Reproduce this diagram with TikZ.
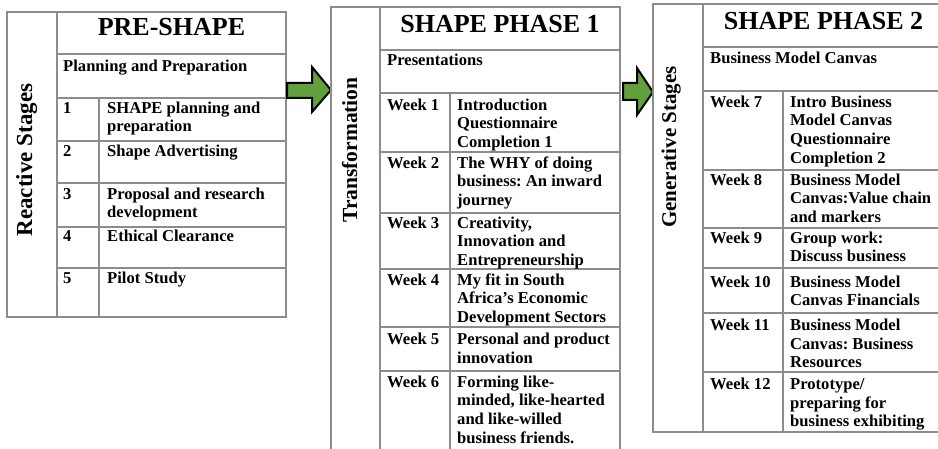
\documentclass[tikz,border=0pt]{standalone}
\usepackage{fontspec}
\setmainfont{Liberation Serif}
\frenchspacing
\definecolor{gridgray}{RGB}{140,140,140}
\definecolor{arrowgreen}{RGB}{98,160,62}
\newcommand{\bodyfont}{\fontsize{16.6}{18.8}\selectfont\bfseries}
\newcommand{\titlefont}{\fontsize{26}{30}\selectfont\bfseries}
\newcommand{\sst}{\rule{0pt}{13pt}}
\tikzset{
  grid/.style={draw=gridgray, line width=1.3pt},
  cell/.style={anchor=north west, inner sep=0pt, align=left, font=\bodyfont},
  title/.style={anchor=base, inner sep=0pt, font=\titlefont},
  stage/.style={anchor=base, inner sep=0pt, rotate=90},
  bigarrow/.style={draw=black, fill=arrowgreen, line width=2pt, line join=miter}
}
\begin{document}
\begin{tikzpicture}[x=1pt,y=-1pt]
\useasboundingbox (0,0) rectangle (938,449);

% ---------- Table 1 : PRE-SHAPE ----------
\draw[grid] (7,12) rectangle (286,317);
\draw[grid] (57,12) -- (57,317);
\draw[grid] (99,98) -- (99,317);
\foreach \y in {54,98,141,183,227,268} \draw[grid] (57,\y) -- (286,\y);

\node[title] (t1) at (171.5,36) {PRE-SHAPE};
\node[cell] (p1) at (63,71-13) {\sst Planning and Preparation};
\node[stage,font=\fontsize{23}{26}\selectfont\bfseries] (s1) at (32,160) {Reactive Stages};

\node[cell] (n1) at (63,113-13) {\sst 1};
\node[cell] (r1) at (107,113-13) {\sst SHAPE planning and\\preparation};
\node[cell] (n2) at (63,156-13) {\sst 2};
\node[cell] (r2) at (107,156-13) {\sst Shape Advertising};
\node[cell] (n3) at (63,199-13) {\sst 3};
\node[cell] (r3) at (107,199-13) {\sst Proposal and research\\development};
\node[cell] (n4) at (63,241-13) {\sst 4};
\node[cell] (r4) at (107,241-13) {\sst Ethical Clearance};
\node[cell] (n5) at (63,283-13) {\sst 5};
\node[cell] (r5) at (107,283-13) {\sst Pilot Study};

% ---------- Arrow 1 ----------
\draw[bigarrow] (287,83) -- (312,83) -- (312,67) -- (331,90) -- (312,112) -- (312,98) -- (287,98) -- cycle;

% ---------- Table 2 : SHAPE PHASE 1 ----------
\draw[grid] (331,449) -- (331,7) -- (620,7) -- (620,449);
\draw[grid] (380,7) -- (380,449);
\draw[grid] (450,93) -- (450,449);
\foreach \y in {50,93,152,213,269,327,371} \draw[grid] (380,\y) -- (620,\y);

\node[title] (t2) at (500,33) {SHAPE PHASE 1};
\node[cell] (p2) at (387,65-13) {\sst Presentations};
\node[stage,font=\fontsize{21.5}{24}\selectfont\bfseries] (s2) at (357,150) {Transformation};

\node[cell] (w1) at (387,110-13) {\sst Week 1};
\node[cell] (d1) at (457,110-13) {\sst Introduction\\Questionnaire\\Completion 1};
\node[cell] (w2) at (387,168-13) {\sst Week 2};
\node[cell] (d2) at (457,168-13) {\sst The WHY of doing\\business: An inward\\journey};
\node[cell] (w3) at (387,228-13) {\sst Week 3};
\node[cell] (d3) at (457,228-13) {\sst Creativity,\\Innovation and\\Entrepreneurship};
\node[cell] (w4) at (387,285-13) {\sst Week 4};
\node[cell] (d4) at (457,285-13) {\sst My fit in South\\Africa’s Economic\\Development Sectors};
\node[cell] (w5) at (387,344-13) {\sst Week 5};
\node[cell] (d5) at (457,344-13) {\sst Personal and product\\innovation};
\node[cell] (w6) at (387,387-13) {\sst Week 6};
\node[cell] (d6) at (457,387-13) {\sst Forming like-\\minded, like-hearted\\and like-willed\\business friends.};

% ---------- Arrow 2 ----------
\draw[bigarrow] (623,83) -- (637,83) -- (637,68) -- (653,92) -- (637,115) -- (637,100) -- (623,100) -- cycle;

% ---------- Table 3 : SHAPE PHASE 2 ----------
\draw[grid] (938,4) -- (653,4) -- (653,432) -- (938,432);
\draw[grid] (703,4) -- (703,432);
\draw[grid] (783,91) -- (783,432);
\foreach \y in {47,91,170,228,268,313,372} \draw[grid] (703,\y) -- (938,\y);

\node[title] (t3) at (823.5,30) {SHAPE PHASE 2};
\node[cell] (p3) at (710,63-13) {\sst Business Model Canvas};
\node[stage,font=\fontsize{21}{24}\selectfont\bfseries] (s3) at (676,147) {Generative Stages};

\node[cell] (w7) at (710,107-13) {\sst Week 7};
\node[cell] (d7) at (790,107-13) {\sst Intro Business\\Model Canvas\\Questionnaire\\Completion 2};
\node[cell] (w8) at (710,185-13) {\sst Week 8};
\node[cell] (d8) at (790,185-13) {\sst Business Model\\Canvas:Value chain\\and markers};
\node[cell] (w9) at (710,243-13) {\sst Week 9};
\node[cell] (d9) at (790,243-13) {\sst Group work:\\Discuss business};
\node[cell] (w10) at (710,287-13) {\sst Week 10};
\node[cell] (d10) at (790,287-13) {\sst Business Model\\Canvas Financials};
\node[cell] (w11) at (710,330-13) {\sst Week 11};
\node[cell] (d11) at (790,330-13) {\sst Business Model\\Canvas: Business\\Resources};
\node[cell] (w12) at (710,389-13) {\sst Week 12};
\node[cell] (d12) at (790,389-13) {\sst Prototype/\\preparing for\\business exhibiting};
\end{tikzpicture}
\end{document}
